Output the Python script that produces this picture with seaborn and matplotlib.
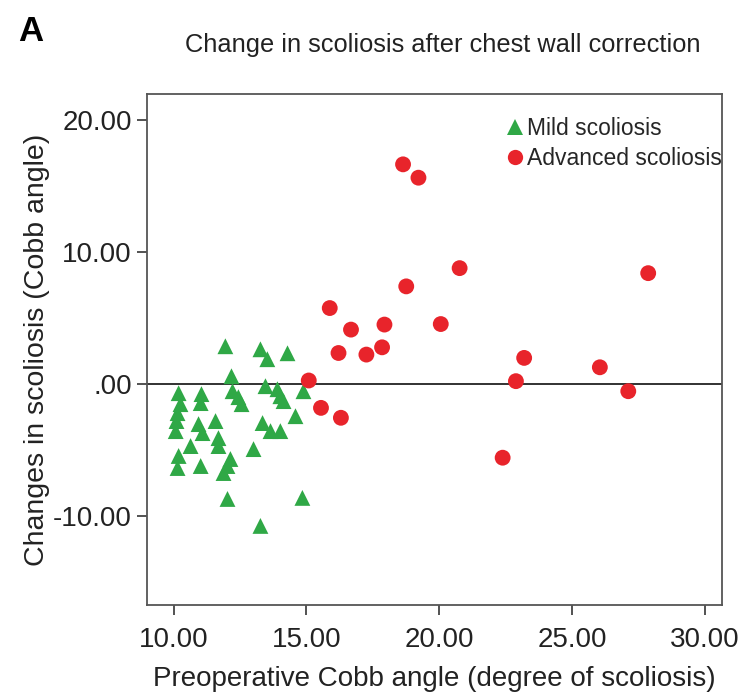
import numpy as np
import pandas as pd
import matplotlib
matplotlib.use("Agg")
import matplotlib.pyplot as plt
import seaborn as sns

# ---- data ----
mild_x = [11.95, 13.27, 13.53, 14.29, 12.18, 12.22, 12.44, 12.56, 13.46, 13.91,
          14.02, 14.14, 14.89, 10.19, 10.26, 10.15, 10.11, 10.08, 11.05, 11.02,
          11.58, 10.94, 11.09, 11.69, 11.69, 10.64, 10.19, 10.15, 11.02, 12.14,
          12.03, 11.88, 14.59, 13.35, 13.65, 14.02, 13.01, 12.03, 14.85, 13.27]
mild_y = [2.87, 2.64, 1.89, 2.34, 0.60, -0.53, -0.98, -1.51, -0.15, -0.38,
          -0.91, -1.28, -0.53, -0.68, -1.51, -2.19, -2.79, -3.55, -0.75, -1.43,
          -2.79, -3.02, -3.70, -4.08, -4.68, -4.68, -5.43, -6.34, -6.19, -5.66,
          -6.19, -6.72, -2.42, -2.94, -3.55, -3.55, -4.91, -8.68, -8.60, -10.72]

adv_x = [18.64, 19.22, 20.77, 27.87, 18.76, 15.88, 16.68, 17.94, 20.06, 16.21,
         17.26, 17.85, 23.20, 26.05, 15.09, 22.89, 27.12, 15.55, 16.30, 22.39]
adv_y = [16.63, 15.62, 8.78, 8.40, 7.40, 5.76, 4.13, 4.51, 4.55, 2.36,
         2.24, 2.79, 1.99, 1.28, 0.28, 0.23, -0.53, -1.79, -2.54, -5.56]

groups = ["Mild scoliosis", "Advanced scoliosis"]
x_ticks = [10, 15, 20, 25, 30]
y_ticks = [-10, 0, 10, 20]
y_tick_labels = ["-10.00", ".00", "10.00", "20.00"]

df = pd.DataFrame({
    "x": mild_x + adv_x,
    "y": mild_y + adv_y,
    "group": [groups[0]] * len(mild_x) + [groups[1]] * len(adv_x),
})

sns.set_theme(style="white")
plt.rcParams["font.family"] = ["Liberation Sans", "DejaVu Sans"]

fig = plt.figure(figsize=(7.41, 6.99), dpi=100)
ax = fig.add_axes([0.1984, 0.1345, 0.776, 0.731])

palette = {groups[0]: "#2fa846", groups[1]: "#e8242b"}
markers = {groups[0]: "^", groups[1]: "o"}
sns.scatterplot(data=df, x="x", y="y", hue="group", style="group",
                palette=palette, markers=markers, s=130, linewidth=0,
                ax=ax, zorder=3)

ax.axhline(0, color="#222222", lw=1.3, zorder=2)

ax.set_xlim(9.0, 30.65)
ax.set_ylim(-16.7, 21.95)
ax.set_xticks(x_ticks)
ax.set_yticks(y_ticks)
ax.set_xticklabels(["%.2f" % v for v in x_ticks])
ax.set_yticklabels(y_tick_labels)
ax.tick_params(axis="both", which="both", direction="out", length=7, width=1.3,
               color="#444444", labelsize=20, labelcolor="#222222",
               bottom=True, left=True, top=False, right=False, pad=4)
ax.tick_params(axis="x", pad=9)
for sp in ax.spines.values():
    sp.set_color("#555555")
    sp.set_linewidth(1.3)

ax.set_xlabel("Preoperative Cobb angle (degree of scoliosis)", fontsize=20,
              color="#222222", labelpad=9)
ax.set_ylabel("Changes in scoliosis (Cobb angle)", fontsize=20.5,
              color="#222222", labelpad=2)

fig.text(0.598, 0.936, "Change in scoliosis after chest wall correction",
         ha="center", va="center", fontsize=18.3, color="#222222")
fig.text(0.024, 0.955, "A", ha="left", va="center", fontsize=25,
         fontweight="bold", color="black")

leg = ax.legend(loc="upper right", frameon=False, fontsize=16.5,
                handletextpad=0.0, handlelength=1.1, borderaxespad=0.2,
                labelspacing=0.3, bbox_to_anchor=(1.024, 0.981))
for h in leg.legend_handles:
    h.set_markersize(11)
    try:
        h.set_sizes([110])
    except Exception:
        pass

fig.savefig("out.png", dpi=100)
